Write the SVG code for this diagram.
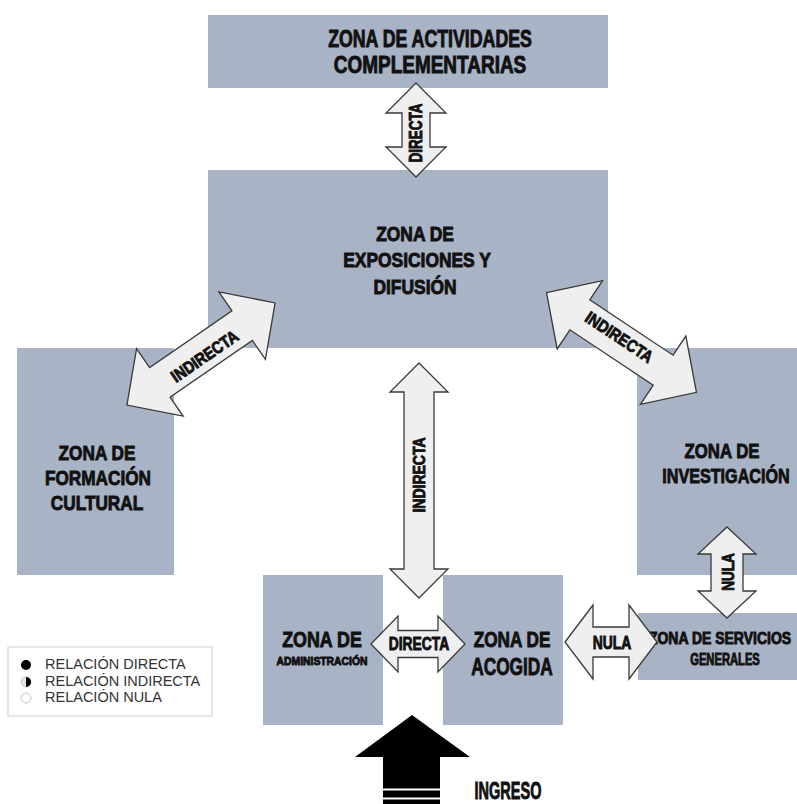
<svg xmlns="http://www.w3.org/2000/svg" width="797" height="804" viewBox="0 0 797 804">
<style>
.zone{fill:#a9b3c6}
.arr{fill:#efefef;stroke:#3a3a3a;stroke-width:1.3;stroke-linejoin:miter}
.t{font-family:"Liberation Sans",Arial,sans-serif;font-weight:bold;fill:#111;stroke:#111;stroke-width:0.9;text-anchor:middle}
.lg{font-family:"Liberation Sans",Arial,sans-serif;fill:#333;font-size:14.5px}
</style>
<rect width="797" height="804" fill="#fff"/>
<g id="zona-actividades">
<rect class="zone" x="208" y="15" width="400" height="73"/>
<text class="t" font-size="23" transform="translate(430,47) scale(0.772,1)">ZONA DE ACTIVIDADES</text>
<text class="t" font-size="23" transform="translate(430,73) scale(0.825,1)">COMPLEMENTARIAS</text>
</g>
<g id="zona-exposiciones">
<rect class="zone" x="208" y="170" width="400" height="178"/>
<text class="t" font-size="20" transform="translate(415,241) scale(0.87,1)">ZONA DE</text>
<text class="t" font-size="20" transform="translate(417,267) scale(0.87,1)">EXPOSICIONES Y</text>
<text class="t" font-size="20" transform="translate(415,294) scale(0.87,1)">DIFUSIÓN</text>
</g>
<g id="zona-formacion">
<rect class="zone" x="17" y="348" width="157" height="227"/>
<text class="t" font-size="21" transform="translate(97,460) scale(0.82,1)">ZONA DE</text>
<text class="t" font-size="21" transform="translate(98,485) scale(0.82,1)">FORMACIÓN</text>
<text class="t" font-size="21" transform="translate(97,510) scale(0.82,1)">CULTURAL</text>
</g>
<g id="zona-investigacion">
<rect class="zone" x="637" y="348" width="160" height="227"/>
<text class="t" font-size="21" transform="translate(722,458) scale(0.8,1)">ZONA DE</text>
<text class="t" font-size="21" transform="translate(726,483) scale(0.77,1)">INVESTIGACIÓN</text>
</g>
<g id="zona-servicios">
<rect class="zone" x="638" y="613" width="159" height="67"/>
<text class="t" font-size="16" transform="translate(720,644) scale(0.875,1)">ZONA DE SERVICIOS</text>
<text class="t" font-size="16" transform="translate(725,665) scale(0.7,1)">GENERALES</text>
</g>
<g id="zona-administracion">
<rect class="zone" x="263" y="575" width="120" height="150"/>
<text class="t" font-size="21.5" transform="translate(322,647) scale(0.83,1)">ZONA DE</text>
<text class="t" font-size="11.5" stroke-width="0.5" transform="translate(322,665) scale(0.9,1)">ADMINISTRACIÓN</text>
</g>
<g id="zona-acogida">
<rect class="zone" x="443" y="575" width="120" height="150"/>
<text class="t" font-size="21.5" transform="translate(512,647) scale(0.8,1)">ZONA DE</text>
<text class="t" font-size="24" transform="translate(512,675) scale(0.72,1)">ACOGIDA</text>
</g>
<g id="connectors">
<g id="c-directa-top">
<path class="arr" d="M416,83 L446,113 L430,113 L430,147 L446,147 L416,177 L386,147 L402,147 L402,113 L386,113 Z"/>
<text class="t" font-size="18" transform="translate(422,133) rotate(-90) scale(0.75,1)">DIRECTA</text>
</g>
<g id="c-indirecta-left">
<path class="arr" transform="translate(201,354) rotate(-34.6)" d="M-90,0 L-50,-41 L-50,-18 L50,-18 L50,-41 L90,0 L50,41 L50,18 L-50,18 L-50,41 Z"/>
<text class="t" font-size="17" transform="translate(208,361) rotate(-34.6) scale(0.85,1)">INDIRECTA</text>
</g>
<g id="c-indirecta-right">
<path class="arr" transform="translate(621.5,342.5) rotate(33.6)" d="M-90,0 L-50,-41 L-50,-18 L50,-18 L50,-41 L90,0 L50,41 L50,18 L-50,18 L-50,41 Z"/>
<text class="t" font-size="17" transform="translate(616,342) rotate(33.6) scale(0.85,1)">INDIRECTA</text>
</g>
<g id="c-indirecta-center">
<path class="arr" d="M419,363 L448,392 L434,392 L434,569 L448,569 L419,598 L390,569 L404,569 L404,392 L390,392 Z"/>
<text class="t" font-size="16.5" transform="translate(425,475) rotate(-90) scale(0.85,1)">INDIRECTA</text>
</g>
<g id="c-nula-vertical">
<path class="arr" d="M727,527 L756,554 L743,554 L743,591 L756,591 L727,618 L698,591 L711,591 L711,554 L698,554 Z"/>
<text class="t" font-size="16.5" transform="translate(734,572) rotate(-90) scale(0.82,1)">NULA</text>
</g>
<g id="c-directa-horizontal">
<path class="arr" d="M371,644 L398,616 L398,630.5 L438,630.5 L438,616 L465,644 L438,672 L438,657.5 L398,657.5 L398,672 Z"/>
<text class="t" font-size="18" transform="translate(419,650) scale(0.77,1)">DIRECTA</text>
</g>
<g id="c-nula-horizontal">
<path class="arr" d="M565,642 L593,605 L593,627 L629,627 L629,605 L657,642 L629,679 L629,657 L593,657 L593,679 Z"/>
<text class="t" font-size="18" transform="translate(612,649) scale(0.77,1)">NULA</text>
</g>
</g>
<g id="ingreso">
<polygon points="412,715 470,757 440,757 440,804 383,804 383,757 355,757" fill="#000"/>
<rect x="383" y="788.5" width="57" height="2" fill="#fff"/>
<rect x="383" y="797.5" width="57" height="2" fill="#fff"/>
<text class="t" font-size="23" transform="translate(508,799) scale(0.63,1)">INGRESO</text>
</g>
<g id="legend">
<rect x="8" y="647" width="204" height="69" fill="none" stroke="#cfcfcf" stroke-width="1"/>
<circle cx="26" cy="665" r="5" fill="#000"/>
<circle cx="26" cy="682" r="5" fill="#e4e4e4" stroke="#bbb" stroke-width="0.8"/>
<path d="M26,677 A5,5 0 0 1 26,687 Z" fill="#000"/>
<circle cx="26" cy="698" r="5" fill="#fff" stroke="#c8c8c8" stroke-width="1"/>
<text class="lg" x="45" y="669">RELACIÓN DIRECTA</text>
<text class="lg" x="45" y="686">RELACIÓN INDIRECTA</text>
<text class="lg" x="45" y="702">RELACIÓN NULA</text>
</g>
</svg>
